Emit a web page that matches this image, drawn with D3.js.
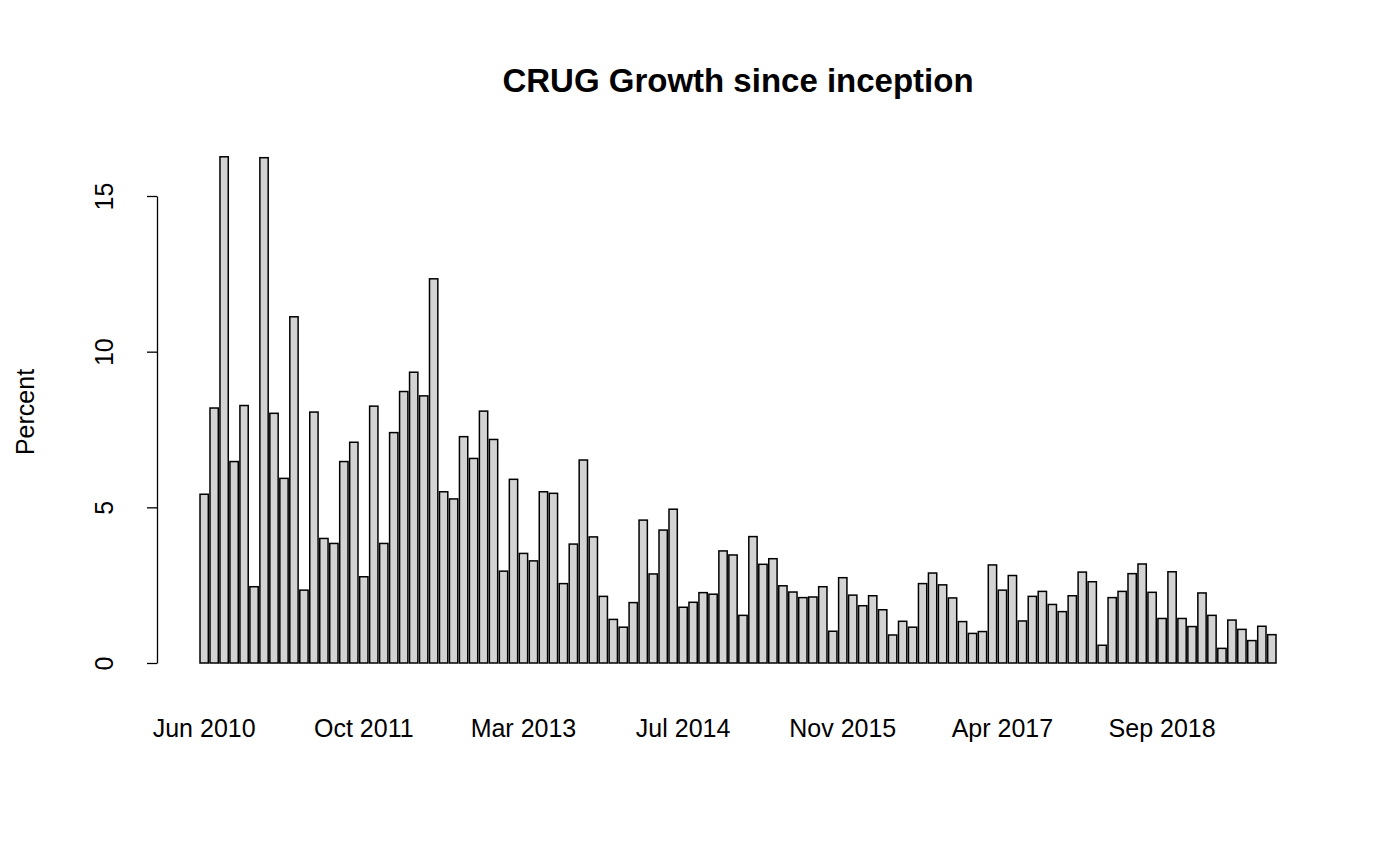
<!DOCTYPE html>
<html>
<head>
<meta charset="utf-8">
<script src="https://cdn.jsdelivr.net/npm/d3@7"></script>
<style>
  body { margin: 0; background: #fff; }
  text { font-family: "Liberation Sans", Arial, sans-serif; fill: #000; }
</style>
</head>
<body>
<div id="chart"></div>
<script>
// Monthly growth, percent
const values = [
    5.42, 8.19, 16.26, 6.47, 8.27, 2.45, 16.23, 8.02, 5.93, 11.12,
    2.34, 8.06, 4.00, 3.84, 6.47, 7.09, 2.77, 8.25, 3.84, 7.40,
    8.72, 9.34, 8.58, 12.34, 5.50, 5.27, 7.27, 6.57, 8.09, 7.18,
    2.95, 5.90, 3.52, 3.28, 5.50, 5.45, 2.55, 3.82, 6.52, 4.05,
    2.14, 1.40, 1.15, 1.94, 4.59, 2.86, 4.27, 4.94, 1.79, 1.95,
    2.26, 2.21, 3.60, 3.47, 1.53, 4.06, 3.17, 3.35, 2.48, 2.28,
    2.10, 2.12, 2.45, 1.02, 2.74, 2.18, 1.84, 2.16, 1.71, 0.90,
    1.34, 1.15, 2.55, 2.89, 2.51, 2.09, 1.33, 0.95, 1.01, 3.15,
    2.34, 2.81, 1.35, 2.14, 2.30, 1.88, 1.65, 2.16, 2.92, 2.61,
    0.57, 2.10, 2.30, 2.87, 3.18, 2.27, 1.43, 2.93, 1.43, 1.17,
    2.25, 1.53, 0.47, 1.38, 1.08, 0.72, 1.18, 0.91
];
// Bars that carry a visible name, and that name
const tickIndex = [0, 16, 32, 48, 64, 80, 96];
const tickLabels = ["Jun 2010", "Oct 2011", "Mar 2013", "Jul 2014", "Nov 2015", "Apr 2017", "Sep 2018"];
const yTicks = [0, 5, 10, 15];

const W = 1400, H = 865;
const svg = d3.select("#chart").append("svg")
    .attr("width", W).attr("height", H);

// R barplot layout: width 1, space 0.2
const x = d3.scaleLinear()
    .domain([0.2, values.length * 1.2])
    .range([200, 1276]);
const y = d3.scaleLinear()
    .domain([0, 15])
    .range([663, 196]);

svg.selectAll("rect.bar")
    .data(values)
    .enter().append("rect")
    .attr("class", "bar")
    .attr("x", (d, i) => x(0.2 + 1.2 * i))
    .attr("width", x(1) - x(0))
    .attr("y", d => y(d))
    .attr("height", d => y(0) - y(d))
    .attr("fill", "#d3d3d3")
    .attr("stroke", "#000")
    .attr("stroke-width", 1.5);

// y axis
const yAxis = svg.append("g")
    .attr("transform", "translate(157,0)")
    .call(d3.axisLeft(y).tickValues(yTicks).tickSize(10).tickSizeOuter(0));
yAxis.select(".domain").attr("stroke-width", 1.3);
yAxis.selectAll(".tick line").attr("stroke-width", 1.3);
yAxis.selectAll(".tick text")
    .attr("font-size", 25)
    .attr("x", 0).attr("dy", 0)
    .attr("text-anchor", "middle")
    .attr("transform", d => `translate(-52,${0}) rotate(-90)`)
    .attr("y", 8);

// bar names
svg.selectAll("text.xlab")
    .data(tickIndex)
    .enter().append("text")
    .attr("class", "xlab")
    .attr("x", (d, i) => x(0.2 + 1.2 * d + 0.5))
    .attr("y", 737)
    .attr("text-anchor", "middle")
    .attr("font-size", 25)
    .text((d, i) => tickLabels[i]);

svg.append("text")
    .attr("transform", "translate(34,412) rotate(-90)")
    .attr("text-anchor", "middle")
    .attr("font-size", 25)
    .text("Percent");

svg.append("text")
    .attr("x", 738).attr("y", 92)
    .attr("text-anchor", "middle")
    .attr("font-size", 33)
    .attr("font-weight", "bold")
    .text("CRUG Growth since inception");
</script>
</body>
</html>
